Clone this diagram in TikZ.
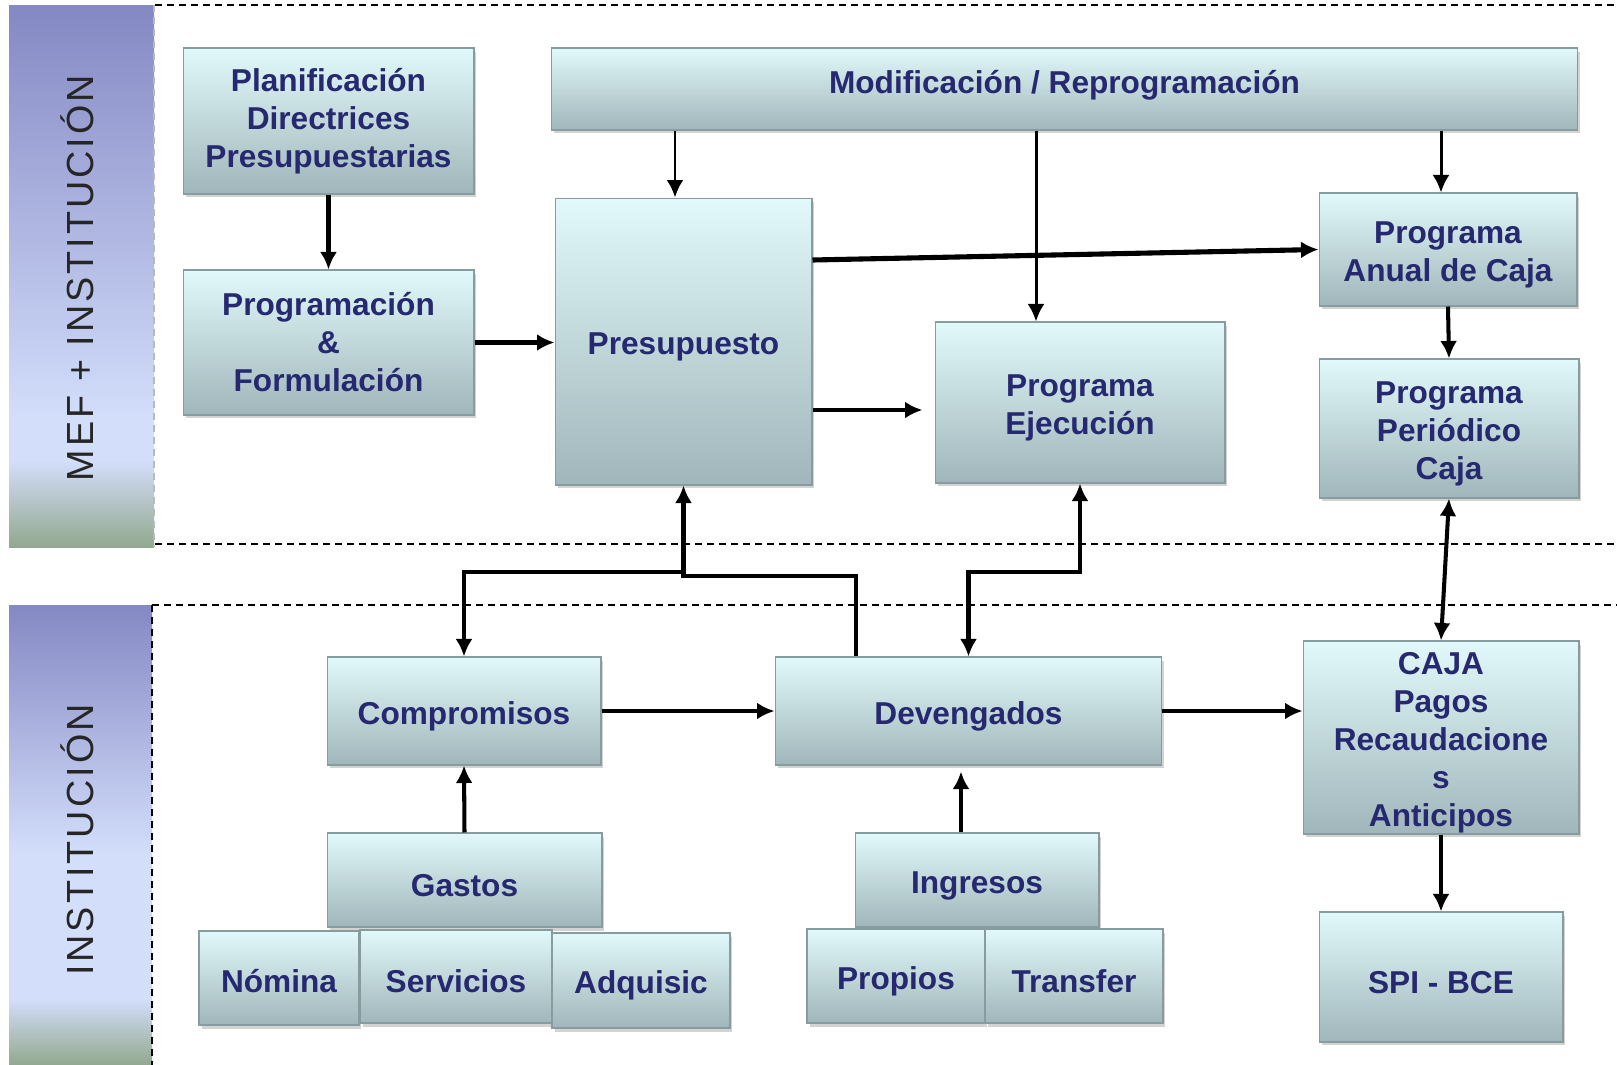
\documentclass[tikz,border=0pt]{standalone}
\usepackage{fontspec}
\setmainfont{Liberation Sans}
\usetikzlibrary{arrows.meta,shadows}

\definecolor{azulTexto}{RGB}{38,40,112}
\definecolor{cajaArriba}{RGB}{226,249,251}
\definecolor{cajaAbajo}{RGB}{160,182,186}
\definecolor{cajaBorde}{RGB}{136,156,160}
\definecolor{bandaArriba}{RGB}{132,136,195}
\definecolor{bandaMedio}{RGB}{211,222,251}
\definecolor{bandaAbajo}{RGB}{146,168,142}

\begin{document}
\begin{tikzpicture}[x=0.02cm,y=-0.02cm,
  caja/.style={rectangle,draw=cajaBorde,line width=0.6pt,
    top color=cajaArriba,bottom color=cajaAbajo,
    drop shadow={shadow xshift=0.05cm,shadow yshift=-0.07cm,opacity=0.35},
    text=azulTexto,font=\fontsize{18}{21.6}\selectfont\bfseries,
    align=center,inner sep=0pt},
  bajar/.style={text height=#1},
  bajar/.default=18.8pt,
  banda/.style={rotate=90,anchor=base,text=black!85,
    font=\fontsize{21.5}{24}\selectfont\addfontfeatures{LetterSpace=8}},
  fina/.style={line width=1.7pt},
  flecha/.style={line width=2.3pt},
  gruesa/.style={line width=2.9pt},
  limite/.style={dash pattern=on 0.14cm off 0.1cm,line width=0.85pt},
  >={Latex[length=0.35cm,width=0.34cm]}]

\useasboundingbox (0,0) rectangle (1617,1065);

% bandas laterales

\shade[top color=bandaArriba,bottom color=bandaMedio] (9,5) rectangle (154,420);
\fill[bandaMedio] (9,419) rectangle (154,462);
\shade[top color=bandaMedio,bottom color=bandaAbajo] (9,461) rectangle (154,547);

\shade[top color=bandaArriba,bottom color=bandaMedio] (9,605) rectangle (152,855);
\fill[bandaMedio] (9,854) rectangle (152,1000);
\shade[top color=bandaMedio,bottom color=bandaAbajo] (9,999) rectangle (152,1065);

\node[banda] (mefinst) at (93,278) {MEF + INSTITUCIÓN};
\node[banda] (instit) at (93,840) {INSTITUCIÓN};

% limites

\draw[limite] (155,5) -- (1617,5);
\draw[limite] (155,544) -- (1617,544);
\draw[limite] (152,605) -- (1617,605);
\draw[limite] (152,605) -- (152,1065);
\draw[limite,gray!55,line width=0.6pt] (154,5) -- (154,547);

% cajas superiores

\node[caja,minimum width=5.82cm,minimum height=2.92cm] (planif) at (328.5,121)
  {Planificación\\Directrices\\Presupuestarias};
\node[caja,minimum width=5.82cm,minimum height=2.90cm] (progr) at (328.5,342.5)
  {Programación\\\&\\Formulación};
\node[caja,bajar=8.5pt,minimum width=20.54cm,minimum height=1.64cm] (modif) at (1064.5,89)
  {Modificación / Reprogramación};
\node[caja,bajar,minimum width=5.14cm,minimum height=5.74cm] (presu) at (683.5,341.5)
  {Presupuesto};
\node[caja,bajar=40.4pt,minimum width=5.8cm,minimum height=3.22cm] (ejec) at (1080,402.5)
  {Programa\\Ejecución};
\node[caja,bajar=40.4pt,minimum width=5.16cm,minimum height=2.26cm] (anual) at (1448,249.5)
  {Programa\\Anual de Caja};
\node[caja,bajar=62pt,minimum width=5.2cm,minimum height=2.78cm] (periodo) at (1449,428.5)
  {Programa\\Periódico\\Caja};

% cajas inferiores

\node[caja,bajar,minimum width=5.48cm,minimum height=2.16cm] (compr) at (464,711)
  {Compromisos};
\node[caja,bajar,minimum width=7.74cm,minimum height=2.16cm] (deven) at (968.5,711)
  {Devengados};
\node[caja,bajar=105.2pt,minimum width=5.52cm,minimum height=3.86cm] (cajaP) at (1441,737.5)
  {CAJA\\Pagos\\Recaudacione\\s\\Anticipos};
\node[caja,bajar,minimum width=4.88cm,minimum height=2.6cm] (spi) at (1441,977)
  {SPI - BCE};

\node[caja,bajar,minimum width=5.5cm,minimum height=1.88cm] (gastos) at (464.5,880) {Gastos};
\node[caja,bajar=17pt,minimum width=3.2cm,minimum height=1.88cm] (nomina) at (279,978) {Nómina};
\node[caja,bajar,minimum width=3.84cm,minimum height=1.86cm] (servic) at (456,976.5) {Servicios};
\node[caja,bajar,minimum width=3.56cm,minimum height=1.9cm] (adquis) at (641,980.5) {Adquisic};

\node[caja,bajar,minimum width=4.88cm,minimum height=1.88cm] (ingr) at (977,880) {Ingresos};
\node[caja,bajar,minimum width=3.56cm,minimum height=1.88cm] (propios) at (896,976) {Propios};
\node[caja,bajar,minimum width=3.56cm,minimum height=1.88cm] (transf) at (1074,976) {Transfer};

% puntos de paso

\coordinate (xpres) at (675,0);
\coordinate (xejec) at (1036,0);
\coordinate (xanual) at (1441,0);
\coordinate (xingr) at (961,0);
\coordinate (xdev) at (856,0);
\coordinate (yanual) at (0,260);
\coordinate (yejec) at (0,410);
\coordinate (yizq) at (0,572);
\coordinate (yder) at (0,576);

% flechas

\draw[fina,->] (modif.south -| xpres) -- (presu.north -| xpres);
\draw[fina,->] (modif.south -| xejec) -- (ejec.north -| xejec);
\draw[fina,->] (modif.south -| xanual) -- (anual.north -| xanual);

\draw[flecha,->] (planif.south) -- (progr.north);
\draw[flecha,->] (progr.east) -- (progr.east -| presu.west);
\draw[gruesa,->] (presu.east |- yanual) -- (anual.west);
\draw[flecha,->,shorten >=0.24cm] (presu.east |- yejec) -- (ejec.west |- yejec);
\draw[flecha,->] (anual.south) -- (periodo.north);
\draw[flecha,<->] (periodo.south) -- (cajaP.north);

\draw[flecha,->] (compr.east) -- (deven.west);
\draw[flecha,->] (deven.east) -- (cajaP.west |- deven.east);
\draw[flecha,->] (cajaP.south) -- (spi.north);
\draw[flecha,->] (gastos.north) -- (compr.south);
\draw[flecha,->,shorten >=0.12cm] (ingr.north -| xingr) -- (deven.south -| xingr);

\draw[flecha,->] (deven.north -| xdev) -- (xdev |- yder) -| (presu.south);
\draw[flecha,->] (presu.south |- yizq) -| (compr.north);
\draw[flecha,<->] (deven.north) |- (ejec.south |- yizq) -- (ejec.south);

\end{tikzpicture}
\end{document}
